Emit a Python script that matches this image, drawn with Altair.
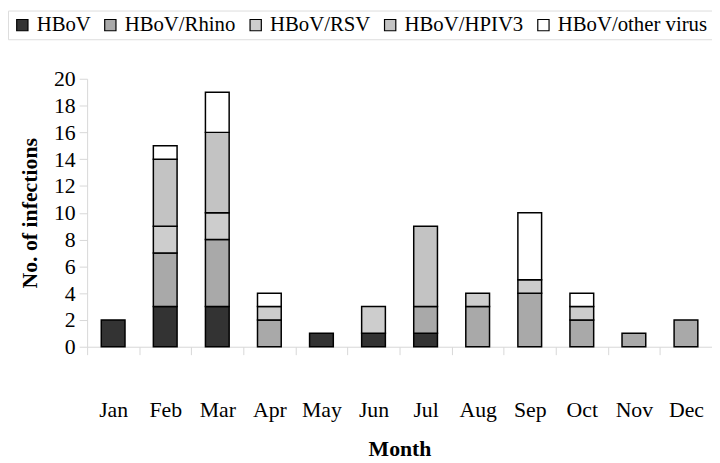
import altair as alt
import pandas as pd

months = ["Jan", "Feb", "Mar", "Apr", "May", "Jun", "Jul", "Aug", "Sep", "Oct", "Nov", "Dec"]
series = ["HBoV", "HBoV/Rhino", "HBoV/RSV", "HBoV/HPIV3", "HBoV/other virus"]
hbov =  [2, 3, 3, 0, 1, 1, 1, 0, 0, 0, 0, 0]
rhino = [0, 4, 5, 2, 0, 0, 2, 3, 4, 2, 1, 2]
rsv =   [0, 2, 2, 1, 0, 2, 0, 1, 1, 1, 0, 0]
hpiv3 = [0, 5, 6, 0, 0, 0, 6, 0, 0, 0, 0, 0]
other = [0, 1, 3, 1, 0, 0, 0, 0, 5, 1, 0, 0]
colors = ["#333333", "#a9a9a9", "#cdcdcd", "#c3c3c3", "#ffffff"]

rows = []
for s_i, (name, vals) in enumerate(zip(series, [hbov, rhino, rsv, hpiv3, other])):
    for m, v in zip(months, vals):
        if v > 0:
            rows.append({"Month": m, "Series": name, "Count": v, "order": s_i})
df = pd.DataFrame(rows)

font = "Liberation Serif"

chart = alt.Chart(df).mark_bar(stroke="black", strokeWidth=1.5, size=24).encode(
    x=alt.X("Month:N", sort=months, title="Month",
            scale=alt.Scale(paddingInner=0, paddingOuter=0),
            axis=alt.Axis(labelAngle=0, labelFontSize=22, labelFont=font, labelColor="black",
                          titleFont=font, titleFontSize=22, titleFontWeight="bold", titleColor="black",
                          titlePadding=18, labelPadding=46, tickBand="extent", tickSize=8,
                          tickColor="#d8d8d8", domainColor="#d8d8d8")),
    y=alt.Y("sum(Count):Q", title="No. of infections",
            scale=alt.Scale(domain=[0, 20], nice=False),
            axis=alt.Axis(values=list(range(0, 21, 2)), grid=False, labelFontSize=22, labelFont=font,
                          labelColor="black", titleFont=font, titleFontSize=22, titleFontWeight="bold",
                          titleColor="black", titlePadding=12, tickSize=8, labelPadding=4,
                          tickColor="#d8d8d8", domainColor="#d8d8d8")),
    color=alt.Color("Series:N", sort=series,
                    scale=alt.Scale(domain=series, range=colors),
                    legend=alt.Legend(title=None, orient="none", legendX=-80, legendY=-69,
                                      direction="horizontal", columns=5, symbolType="square",
                                      symbolSize=130, symbolStrokeColor="black", symbolStrokeWidth=1.2,
                                      labelFont=font, labelFontSize=21, labelColor="black",
                                      columnPadding=9, labelOffset=4,
                                      strokeColor="#dddddd", padding=4, symbolOpacity=1,
                                      labelLimit=300)),
    order=alt.Order("order:Q", sort="ascending"),
).properties(
    width=632, height=271,
    autosize=alt.AutoSizeParams(type="none"),
    padding={"left": 80, "top": 69, "right": 0, "bottom": 115},
).configure_view(stroke=None)

chart.save("out.html", embed_options={"renderer": "svg", "actions": False})
